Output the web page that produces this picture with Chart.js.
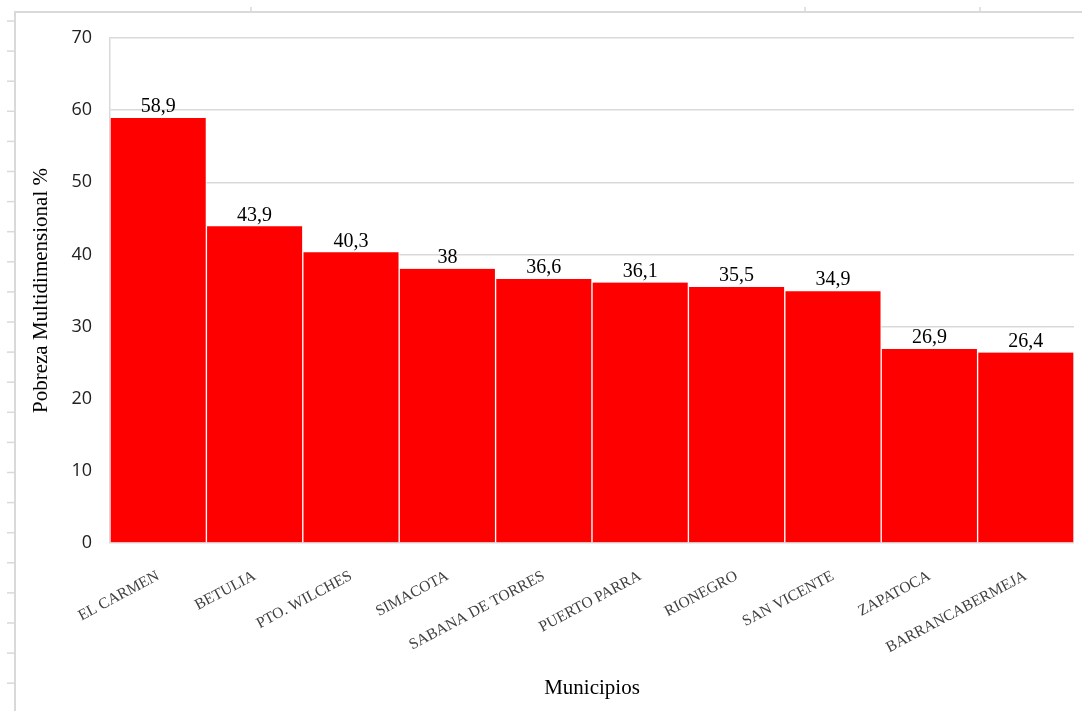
<!DOCTYPE html>
<html>
<head>
<meta charset="utf-8">
<script src="https://cdn.jsdelivr.net/npm/chart.js@4.4.0/dist/chart.umd.min.js"></script>
<style>
  html, body { margin: 0; padding: 0; background: #fff; }
  #chart { display: block; }
</style>
</head>
<body>
<canvas id="chart" width="1082" height="711"></canvas>
<script>
var municipios = ['EL CARMEN', 'BETULIA', 'PTO. WILCHES', 'SIMACOTA', 'SABANA DE TORRES', 'PUERTO PARRA', 'RIONEGRO', 'SAN VICENTE', 'ZAPATOCA', 'BARRANCABERMEJA'];
var pobreza = [58.9, 43.9, 40.3, 38, 36.6, 36.1, 35.5, 34.9, 26.9, 26.4];
var yTicks = [0, 10, 20, 30, 40, 50, 60, 70];

var serif = '"Liberation Serif", "Times New Roman", serif';

// sheet frame behind the chart (page edge + ruler ticks)
var sheetFrame = {
  id: 'sheetFrame',
  beforeDraw: function (chart) {
    var ctx = chart.ctx;
    ctx.save();
    ctx.strokeStyle = '#d9d9d9';
    ctx.lineWidth = 2;
    ctx.beginPath();
    ctx.moveTo(15, 711);
    ctx.lineTo(15, 12);
    ctx.lineTo(1082, 12);
    ctx.stroke();
    ctx.lineWidth = 1.5;
    for (var y = 21; y < 711; y += 30.1) {
      ctx.beginPath();
      ctx.moveTo(7, y);
      ctx.lineTo(15, y);
      ctx.stroke();
    }
    [251, 805, 980].forEach(function (x) {
      ctx.beginPath();
      ctx.moveTo(x, 7);
      ctx.lineTo(x, 12);
      ctx.stroke();
    });
    ctx.restore();
  }
};

// value labels over each bar, with decimal comma
var valueLabels = {
  id: 'valueLabels',
  afterDatasetsDraw: function (chart) {
    var ctx = chart.ctx;
    var meta = chart.getDatasetMeta(0);
    ctx.save();
    ctx.font = '20px ' + serif;
    ctx.fillStyle = '#000';
    ctx.textAlign = 'center';
    ctx.textBaseline = 'bottom';
    meta.data.forEach(function (bar, i) {
      var txt = String(pobreza[i]).replace('.', ',');
      ctx.fillText(txt, bar.x, bar.y - 1);
    });
    ctx.restore();
  }
};

var chart = new Chart(document.getElementById('chart'), {
  type: 'bar',
  data: {
    labels: municipios,
    datasets: [{
      data: pobreza,
      backgroundColor: '#ff0000',
      borderColor: '#ffffff',
      borderWidth: { left: 1, right: 1, top: 0, bottom: 0 },
      borderSkipped: false,
      barPercentage: 1,
      categoryPercentage: 1
    }]
  },
  options: {
    responsive: false,
    animation: false,
    devicePixelRatio: 1,
    layout: { padding: { top: 38, right: 8, left: 0, bottom: 0 } },
    plugins: {
      legend: { display: false },
      tooltip: { enabled: false }
    },
    scales: {
      x: {
        grid: { display: false, drawTicks: false },
        border: { display: false },
        ticks: {
          minRotation: 28,
          maxRotation: 28,
          autoSkip: false,
          padding: 24,
          color: '#404040',
          font: { family: serif, size: 15.5 }
        },
        title: {
          display: true,
          text: 'Municipios',
          color: '#000',
          font: { family: serif, size: 21 },
          padding: { top: 0, bottom: 10 }
        },
        afterFit: function (scale) { scale.height = 168; }
      },
      y: {
        min: 0,
        max: 70,
        afterBuildTicks: function (scale) {
          scale.ticks = yTicks.map(function (v) { return { value: v }; });
        },
        grid: { color: '#d9d9d9', lineWidth: 1.5, drawTicks: false },
        border: { display: true, color: '#d9d9d9', width: 1.5 },
        ticks: {
          padding: 18,
          color: '#222',
          font: { family: '"Open Sans", "Liberation Sans", sans-serif', size: 18 }
        },
        title: {
          display: true,
          text: 'Pobreza Multidimensional %',
          color: '#000',
          font: { family: serif, size: 21 },
          padding: { top: 29, bottom: 0 }
        },
        afterFit: function (scale) { scale.width = 110; }
      }
    }
  },
  plugins: [sheetFrame, valueLabels]
});
</script>
</body>
</html>
